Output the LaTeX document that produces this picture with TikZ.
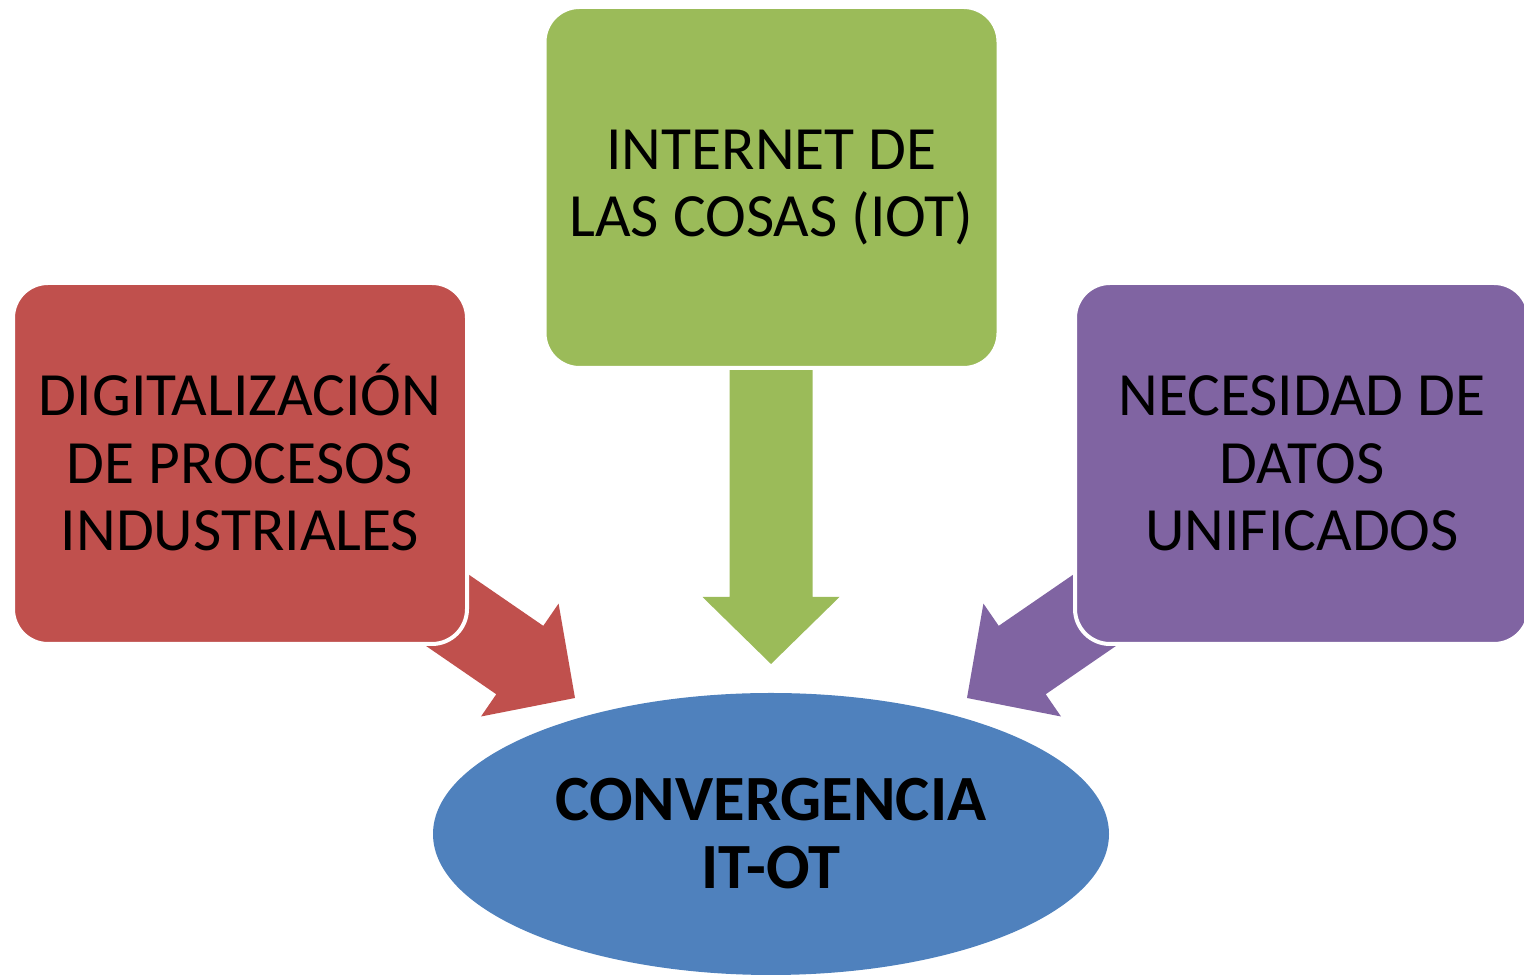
\documentclass[tikz,border=0pt]{standalone}
\usepackage{fontspec}
\setmainfont{Carlito}
\usetikzlibrary{shapes.geometric}
\definecolor{cred}{HTML}{C0504D}
\definecolor{cgreen}{HTML}{9BBB59}
\definecolor{cpurple}{HTML}{8064A2}
\definecolor{cblue}{HTML}{4F81BD}
\tikzset{
  box/.style={rounded corners=35pt, minimum width=454pt, minimum height=361pt,
    draw=white, line width=4pt, align=center, inner sep=0pt,
    font=\fontsize{61.5}{67.5}\selectfont},
  oval/.style={ellipse, minimum width=676pt, minimum height=282pt, fill=cblue,
    inner sep=0pt, align=center, font=\fontsize{64.5}{68}\selectfont\bfseries},
  barrow/.pic={\fill[pic actions] (0,0) -- (-67,68.5) -- (-67,41.5) -- (-#1,41.5)
    -- (-#1,-41.5) -- (-67,-41.5) -- (-67,-68.5) -- cycle;}
}
\begin{document}
\begin{tikzpicture}[x=1pt,y=1pt]
\useasboundingbox (0,0) rectangle (1524,979);
\clip (0,0) rectangle (1524,979);
\node[oval] (conv) at (771,145) {CONVERGENCIA\\IT-OT};
\coordinate (tipG) at (771,315);
\coordinate (tipR) at (575,281);
\coordinate (tipP) at (967,281);
\pic[fill=cgreen, rotate=-90] at (tipG) {barrow=330};
\pic[fill=cred, rotate=-34.5] at (tipR) {barrow=230};
\pic[fill=cpurple, rotate=214.5] at (tipP) {barrow=230};
\node[box, fill=cred] (dig) at (240,515.5) {DIGITALIZACI\smash{Ó}N\\DE PROCESOS\\INDUSTRIALES};
\node[box, fill=cgreen] (iot) at (771.5,791.5) {INTERNET DE\\LAS COSAS (IOT)};
\node[box, fill=cpurple] (nec) at (1302,515.5) {NECESIDAD DE\\DATOS\\UNIFICADOS};
\end{tikzpicture}
\end{document}
